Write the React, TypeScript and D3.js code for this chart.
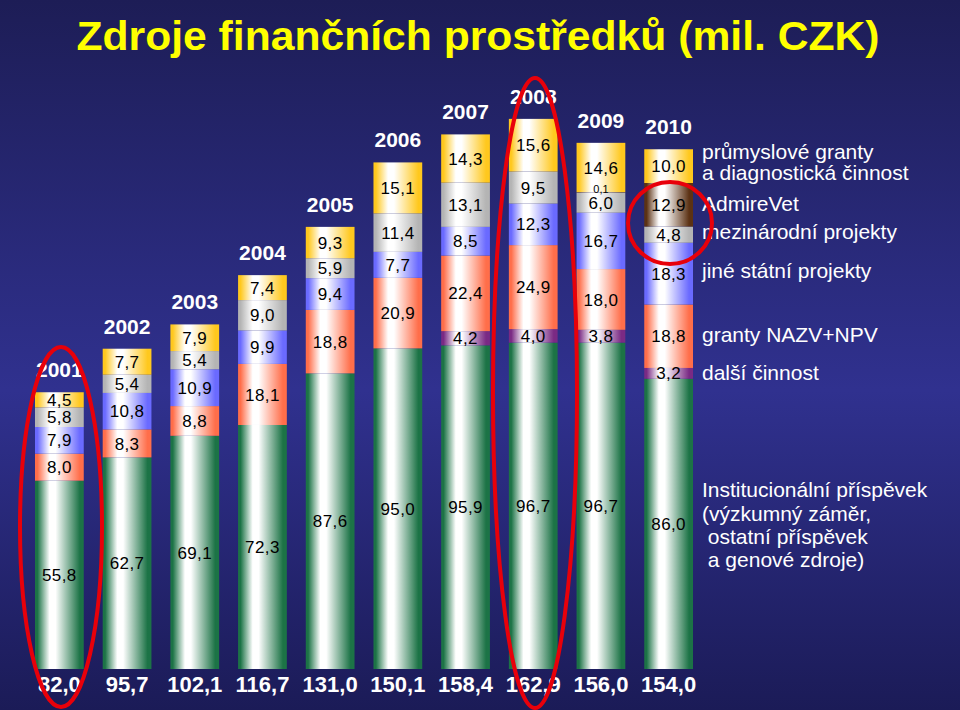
import React from 'react';
import * as d3 from 'd3';

const years = ['2001', '2002', '2003', '2004', '2005', '2006', '2007', '2008', '2009', '2010'];
const institucionalni = [55.8, 62.7, 69.1, 72.3, 87.6, 95.0, 95.9, 96.7, 96.7, 86.0];
const dalsiCinnost = [0, 0, 0, 0, 0, 0, 4.2, 4.0, 3.8, 3.2];
const grantyNAZV = [8.0, 8.3, 8.8, 18.1, 18.8, 20.9, 22.4, 24.9, 18.0, 18.8];
const jineStatni = [7.9, 10.8, 10.9, 9.9, 9.4, 7.7, 8.5, 12.3, 16.7, 18.3];
const mezinarodni = [5.8, 5.4, 5.4, 9.0, 5.9, 11.4, 13.1, 9.5, 6.0, 4.8];
const admireVet = [0, 0, 0, 0, 0, 0, 0, 0, 0.1, 12.9];
const prumyslove = [4.5, 7.7, 7.9, 7.4, 9.3, 15.1, 14.3, 15.6, 14.6, 10.0];
const totals = [82.0, 95.7, 102.1, 116.7, 131.0, 150.1, 158.4, 162.9, 156.0, 154.0];

const seriesKeys = ['inst', 'dalsi', 'nazv', 'jine', 'mezi', 'admire', 'prum'];
const seriesValues = [institucionalni, dalsiCinnost, grantyNAZV, jineStatni, mezinarodni, admireVet, prumyslove];
const seriesColors = ['#1c7346', '#7a2a84', '#ff6e4a', '#6a6aff', '#b4b4b4', '#5c3214', '#ffc81e'];

const legendLines = [
  { text: 'průmyslové granty', y: 159 },
  { text: 'a diagnostická činnost', y: 180 },
  { text: 'AdmireVet', y: 211 },
  { text: 'mezinárodní projekty', y: 239 },
  { text: 'jiné státní projekty', y: 278 },
  { text: 'granty NAZV+NPV', y: 342 },
  { text: 'další činnost', y: 380 },
  { text: 'Institucionální příspěvek', y: 497 },
  { text: '(výzkumný záměr,', y: 521 },
  { text: ' ostatní příspěvek', y: 544 },
  { text: ' a genové zdroje)', y: 567 },
];

const fmt = (v: number) => d3.format('.1f')(v).replace('.', ',');
const FONT = "'Liberation Sans', Arial, Helvetica, sans-serif";

export default function App() {
  const W = 960, H = 710;
  const x = d3.scaleBand<string>().domain(years).range([35, 693]).paddingInner(0.28).paddingOuter(0);
  const y = d3.scaleLinear().domain([0, 200]).range([669, 669 - 200 * 3.375]);

  const rows = years.map((yr, i) => {
    const o: any = { year: yr };
    seriesKeys.forEach((k, j) => (o[k] = seriesValues[j][i]));
    return o;
  });
  const stacked = d3.stack<any>().keys(seriesKeys)(rows);
  const bw = x.bandwidth();

  return (
    <svg width={W} height={H} style={{ position: 'absolute', left: 0, top: 0, fontFamily: FONT }}>
      <defs>
        <linearGradient id="bg" x1="0" y1="0" x2="0" y2="1">
          <stop offset="0" stopColor="#1d1d56" />
          <stop offset="0.55" stopColor="#30318f" />
          <stop offset="1" stopColor="#1b1b57" />
        </linearGradient>
        {seriesColors.map((c, i) => (
          <linearGradient key={i} id={`g${i}`} x1="0" y1="0" x2="1" y2="0">
            <stop offset="0" stopColor={c} />
            <stop offset="0.05" stopColor={c} />
            <stop offset="0.3" stopColor="#ffffff" />
            <stop offset="0.42" stopColor="#ffffff" />
            <stop offset="0.92" stopColor={c} />
            <stop offset="1" stopColor={c} />
          </linearGradient>
        ))}
      </defs>
      <rect x={0} y={0} width={W} height={H} fill="url(#bg)" />
      <text x={478} y={50} textAnchor="middle" fill="#ffff00" fontWeight="bold" fontSize={40}
        textLength={803} lengthAdjust="spacingAndGlyphs" style={{ fontFamily: FONT }}>
        Zdroje finančních prostředků (mil. CZK)
      </text>

      {stacked.map((layer, si) => (
        <g key={layer.key}>
          {layer.map((d, i) => {
            const v = d[1] - d[0];
            if (v <= 0) return null;
            const x0 = x(years[i])!;
            return (
              <rect key={i} x={x0} y={y(d[1])} width={bw} height={y(d[0]) - y(d[1])} fill={`url(#g${si})`} />
            );
          })}
        </g>
      ))}

      {stacked.map((layer, si) => (
        <g key={'l' + layer.key}>
          {layer.map((d, i) => {
            const v = d[1] - d[0];
            if (v <= 0) return null;
            const cx = x(years[i])! + bw / 2;
            const cy = (y(d[0]) + y(d[1])) / 2;
            const small = v < 1;
            return (
              <text key={i} x={cx} y={small ? cy - 3 : cy} dy="0.36em" textAnchor="middle" fill="#000"
                fontSize={small ? 11 : 17} letterSpacing={small ? 0 : 0.4} style={{ fontFamily: FONT }}>
                {fmt(v)}
              </text>
            );
          })}
        </g>
      ))}

      {years.map((yr, i) => {
        const top = stacked[stacked.length - 1][i][1];
        return (
          <text key={yr} x={x(yr)! + bw / 2} y={y(top) - 15} textAnchor="middle" fill="#fff" fontWeight="bold" fontSize={21}
            style={{ fontFamily: FONT }}>
            {yr}
          </text>
        );
      })}

      {years.map((yr, i) => (
        <text key={'t' + yr} x={x(yr)! + bw / 2} y={692} textAnchor="middle" fill="#fff" fontWeight="bold" fontSize={22}
          style={{ fontFamily: FONT }}>
          {fmt(totals[i])}
        </text>
      ))}

      {legendLines.map((l, i) => (
        <text key={i} x={702} y={l.y} fill="#fff" fontSize={21} style={{ whiteSpace: 'pre', fontFamily: FONT }}>
          {l.text}
        </text>
      ))}

      <ellipse cx={61} cy={527} rx={41} ry={180} fill="none" stroke="#e8000a" strokeWidth={4} />
      <ellipse cx={535} cy={393} rx={42} ry={315} fill="none" stroke="#e8000a" strokeWidth={4} />
      <ellipse cx={670} cy={223} rx={42} ry={41} fill="none" stroke="#e8000a" strokeWidth={4} />
    </svg>
  );
}
